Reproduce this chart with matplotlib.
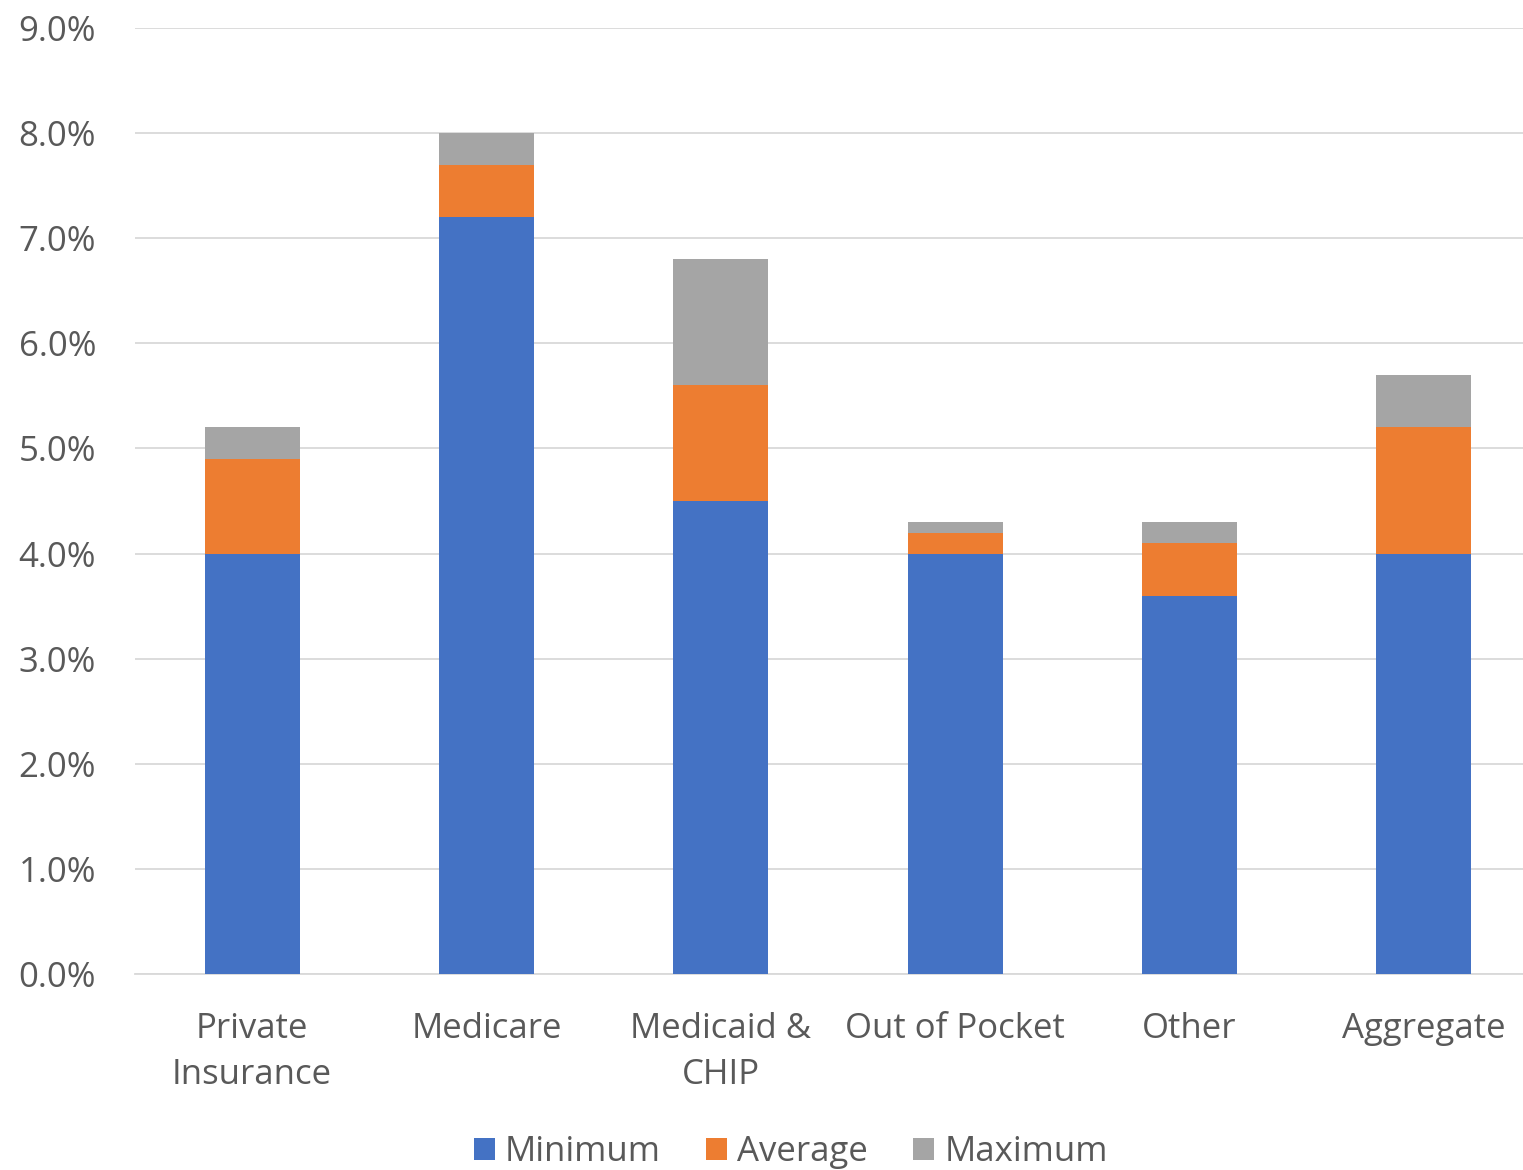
import matplotlib
matplotlib.use("Agg")
import matplotlib.pyplot as plt
import numpy as np
from matplotlib.ticker import FuncFormatter, MultipleLocator
from matplotlib.patches import Patch

plt.rcParams['font.family'] = ['Open Sans', 'DejaVu Sans']

categories = ["Private\nInsurance", "Medicare", "Medicaid &\nCHIP",
              "Out of Pocket", "Other", "Aggregate"]
# stacked segment heights, in percent
minimum = [4.0, 7.2, 4.5, 4.0, 3.6, 4.0]
average = [0.9, 0.5, 1.1, 0.2, 0.5, 1.2]
maximum = [0.3, 0.3, 1.2, 0.1, 0.2, 0.5]
series_names = ["Minimum", "Average", "Maximum"]
colors = ["#4472C4", "#ED7D31", "#A5A5A5"]
text_color = "#595959"
fs = 25

W, H = 1523, 1170
fig = plt.figure(figsize=(W / 100, H / 100), dpi=100)
ax = fig.add_axes([135 / W, 1 - 974 / H, (1541 - 135) / W, (974 - 28) / H])

x = np.arange(len(categories))
bottom = np.zeros(len(categories))
for vals, name, c in zip([minimum, average, maximum], series_names, colors):
    ax.bar(x, vals, bottom=bottom, width=0.405, color=c, label=name, zorder=3)
    bottom += np.array(vals)

ax.set_xlim(-0.5, len(categories) - 0.5)
ax.set_ylim(0, 9)
ax.yaxis.set_major_locator(MultipleLocator(1))
ax.yaxis.set_major_formatter(FuncFormatter(lambda v, p: f"{v:.1f}%"))
ax.grid(axis="y", color="#D9D9D9", linewidth=1.3, zorder=0)
for s in ["top", "right", "left"]:
    ax.spines[s].set_visible(False)
ax.spines["bottom"].set_color("#D9D9D9")
ax.spines["bottom"].set_linewidth(1.3)
ax.tick_params(axis="both", length=0, labelsize=fs, colors=text_color)
ax.tick_params(axis="y", pad=28)
ax.tick_params(axis="x", pad=27)
ax.set_xticks(x)
ax.set_xticklabels(categories, linespacing=1.48)

handles = [Patch(facecolor=c, label=n) for c, n in zip(colors, series_names)]
fig.legend(handles=handles, loc="center", bbox_to_anchor=(791 / W, 1 - 1152 / H),
           ncol=3, frameon=False, fontsize=fs, labelcolor=text_color,
           handlelength=0.6, handleheight=0.6, handletextpad=0.3,
           columnspacing=1.3)

fig.savefig("out.png", dpi=100, facecolor="white")
